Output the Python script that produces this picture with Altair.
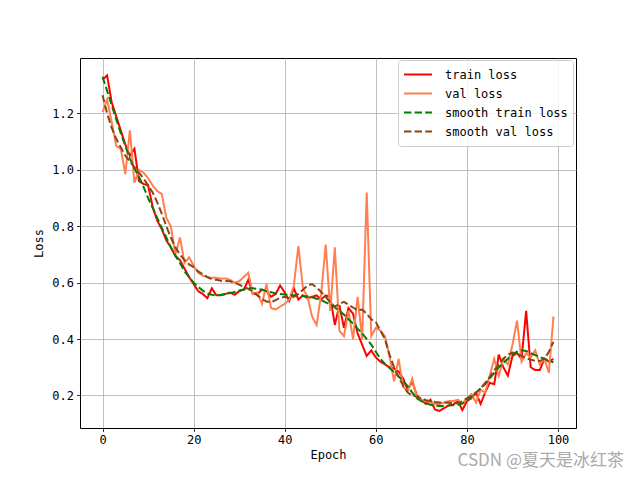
import altair as alt
import pandas as pd

epochs = list(range(100))

train_loss = [
    1.32, 1.335, 1.24, 1.19, 1.14, 1.09, 1.05, 1.075, 0.96, 0.95,
    0.945, 0.87, 0.82, 0.79, 0.75, 0.725, 0.695, 0.68, 0.65, 0.62,
    0.595, 0.57, 0.56, 0.545, 0.58, 0.555, 0.555, 0.56, 0.565, 0.557,
    0.57, 0.575, 0.61, 0.56, 0.56, 0.575, 0.57, 0.55, 0.56, 0.59,
    0.565, 0.535, 0.58, 0.54, 0.555, 0.545, 0.55, 0.555, 0.54, 0.555,
    0.55, 0.45, 0.52, 0.44, 0.51, 0.49, 0.42, 0.38, 0.34, 0.36,
    0.335, 0.32, 0.31, 0.30, 0.295, 0.285, 0.26, 0.22, 0.25, 0.20,
    0.185, 0.17, 0.185, 0.15, 0.145, 0.155, 0.165, 0.168, 0.18, 0.148,
    0.18, 0.19, 0.21, 0.17, 0.21, 0.245, 0.24, 0.345, 0.30, 0.27,
    0.34, 0.35, 0.33, 0.50, 0.30, 0.29, 0.29, 0.33, 0.32, 0.33,
]

val_loss = [
    1.205, 1.25, 1.17, 1.085, 1.075, 0.985, 1.14, 0.955, 1.00, 0.99,
    0.97, 0.945, 0.925, 0.915, 0.83, 0.80, 0.70, 0.76, 0.67, 0.69,
    0.66, 0.635, 0.625, 0.62, 0.617, 0.617, 0.615, 0.615, 0.61, 0.60,
    0.605, 0.62, 0.635, 0.56, 0.565, 0.525, 0.595, 0.51, 0.505, 0.515,
    0.525, 0.54, 0.59, 0.73, 0.58, 0.55, 0.48, 0.45, 0.56, 0.735,
    0.50, 0.725, 0.43, 0.41, 0.50, 0.40, 0.55, 0.40, 0.92, 0.41,
    0.44, 0.43, 0.41, 0.34, 0.25, 0.33, 0.23, 0.215, 0.26, 0.19,
    0.185, 0.18, 0.175, 0.17, 0.17, 0.175, 0.18, 0.18, 0.185, 0.17,
    0.19, 0.205, 0.175, 0.22, 0.21, 0.27, 0.33, 0.27, 0.33, 0.31,
    0.38, 0.465, 0.32, 0.35, 0.335, 0.36, 0.31, 0.33, 0.28, 0.48,
]

smooth_train = [
    1.33, 1.28, 1.23, 1.18, 1.13, 1.085, 1.04, 1.005, 0.975, 0.94,
    0.90, 0.865, 0.83, 0.795, 0.76, 0.725, 0.695, 0.67, 0.64, 0.62,
    0.60, 0.585, 0.572, 0.562, 0.557, 0.556, 0.557, 0.56, 0.563, 0.567,
    0.572, 0.576, 0.58, 0.58, 0.578, 0.575, 0.57, 0.566, 0.562, 0.56,
    0.558, 0.556, 0.555, 0.554, 0.553, 0.551, 0.548, 0.543, 0.538, 0.53,
    0.522, 0.512, 0.50, 0.487, 0.47, 0.455, 0.437, 0.42, 0.40, 0.38,
    0.355, 0.33, 0.312, 0.297, 0.283, 0.268, 0.25, 0.233, 0.21, 0.19,
    0.18, 0.172, 0.167, 0.164, 0.163, 0.163, 0.164, 0.165, 0.167, 0.172,
    0.182, 0.195, 0.21, 0.225, 0.24, 0.26, 0.28, 0.30, 0.315, 0.33,
    0.345, 0.355, 0.36, 0.358, 0.35, 0.343, 0.336, 0.33, 0.323, 0.318,
]

smooth_val = [
    1.265, 1.20, 1.15, 1.11, 1.08, 1.05, 1.03, 1.01, 0.99, 0.97,
    0.945, 0.92, 0.885, 0.845, 0.80, 0.76, 0.725, 0.70, 0.68, 0.665,
    0.655, 0.64, 0.63, 0.62, 0.612, 0.61, 0.607, 0.606, 0.605, 0.60,
    0.593, 0.585, 0.578, 0.568, 0.555, 0.542, 0.533, 0.53, 0.538, 0.546,
    0.55, 0.545, 0.55, 0.56, 0.575, 0.59, 0.595, 0.583, 0.567, 0.55,
    0.53, 0.515, 0.525, 0.532, 0.522, 0.512, 0.502, 0.505, 0.49, 0.47,
    0.46, 0.43, 0.40, 0.345, 0.30, 0.265, 0.235, 0.21, 0.20, 0.195,
    0.19, 0.183, 0.18, 0.177, 0.175, 0.175, 0.174, 0.173, 0.172, 0.18,
    0.19, 0.20, 0.21, 0.225, 0.245, 0.265, 0.29, 0.31, 0.33, 0.345,
    0.352, 0.35, 0.34, 0.332, 0.327, 0.323, 0.322, 0.33, 0.355, 0.39,
]

series_names = ["train loss", "val loss", "smooth train loss", "smooth val loss"]
series_values = [train_loss, val_loss, smooth_train, smooth_val]
series_colors = ["#ff0000", "#ff7f50", "#008000", "#8b4513"]
series_dash = [[1, 0], [1, 0], [7.4, 3.2], [7.4, 3.2]]

x_ticks = [0, 20, 40, 60, 80, 100]
y_ticks = [0.2, 0.4, 0.6, 0.8, 1.0, 1.2]

MONO = "DejaVu Sans Mono"

legend = alt.Legend(
    title=None,
    orient="none",
    legendX=318,
    legendY=2,
    symbolType="stroke",
    symbolSize=784,
    symbolStrokeWidth=2,
    labelFont=MONO,
    labelFontSize=12,
    labelColor="black",
    labelOffset=12,
    clipHeight=19,
    rowPadding=0,
    padding=5,
    strokeColor="#cccccc",
    fillColor="rgba(255,255,255,0.8)",
    cornerRadius=3,
)

layers = []
for name, vals in zip(series_names, series_values):
    df = pd.DataFrame({"epoch": epochs, "loss": vals, "series": name})
    layers.append(
        alt.Chart(df).mark_line(strokeWidth=2, clip=True).encode(
            x=alt.X("epoch:Q",
                    scale=alt.Scale(domain=[-4.95, 103.95], nice=False, zero=False),
                    axis=alt.Axis(values=x_ticks, title="Epoch", format="d")),
            y=alt.Y("loss:Q",
                    scale=alt.Scale(domain=[0.0846, 1.3967], nice=False, zero=False),
                    axis=alt.Axis(values=y_ticks, title="Loss", format=".1f")),
            color=alt.Color("series:N",
                            scale=alt.Scale(domain=series_names, range=series_colors),
                            legend=legend),
            strokeDash=alt.StrokeDash("series:N",
                                      scale=alt.Scale(domain=series_names, range=series_dash),
                                      legend=legend),
        )
    )

chart = alt.layer(*layers).properties(
    width=496,
    height=370,
    padding={"left": 72, "top": 50, "right": 56, "bottom": 44},
    autosize=alt.AutoSizeParams(type="none"),
    title=alt.Title(
        "CSDN @夏天是冰红茶",
        orient="bottom",
        anchor="end",
        font="Noto Sans CJK SC",
        fontSize=17,
        fontWeight="normal",
        color="#aaaaaa",
        dx=48,
        offset=-8,
    ),
).configure_view(
    stroke="black", strokeWidth=1
).configure_axis(
    domain=False,
    grid=True,
    gridColor="#b0b0b0",
    gridWidth=0.8,
    tickColor="black",
    tickSize=3.5,
    tickWidth=0.8,
    labelFont=MONO,
    labelFontSize=12,
    labelColor="black",
    labelPadding=3,
    titleFont=MONO,
    titleFontSize=12,
    titleFontWeight="normal",
    titleColor="black",
).configure_axisX(
    titlePadding=4
).configure_axisY(
    titlePadding=6
)

chart.save("out.html", embed_options={"renderer": "svg", "actions": False})
